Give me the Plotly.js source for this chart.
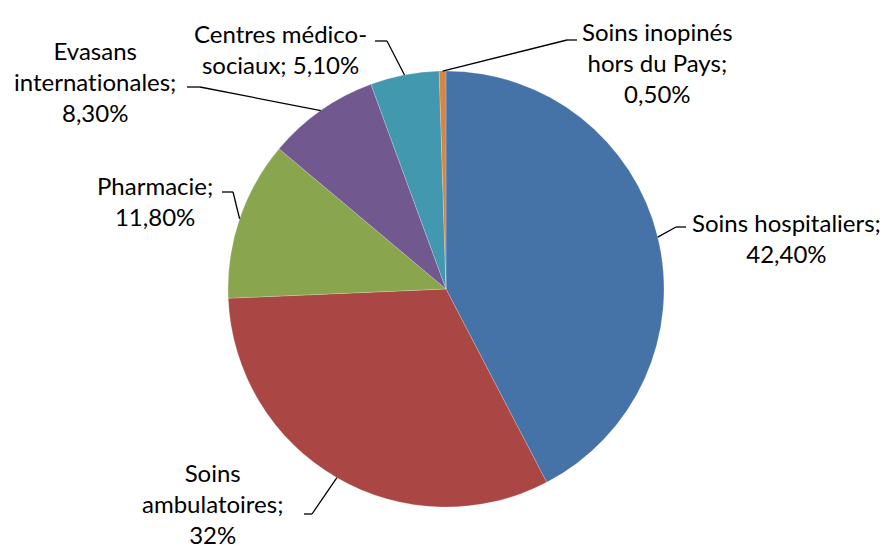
<!DOCTYPE html>
<html>
<head>
<meta charset="utf-8">
<script src="https://cdn.plot.ly/plotly-3.0.1.min.js"></script>
<style>html,body{margin:0;padding:0;background:#fff;}#chart{width:887px;height:548px;}
text{font-variant-ligatures:none;font-feature-settings:"liga" 0;}</style>
</head>
<body>
<div id="chart"></div>
<script>
const categories = ["Soins hospitaliers", "Soins ambulatoires", "Pharmacie", "Evasans internationales", "Centres médico-sociaux", "Soins inopinés hors du Pays"];
const values = [42.4, 32, 11.8, 8.3, 5.1, 0.5];
const valueLabels = ["42,40%", "32%", "11,80%", "8,30%", "5,10%", "0,50%"];
const labelTexts = [
  "Soins hospitaliers;<br>42,40%",
  "Soins<br>ambulatoires;<br>32%",
  "Pharmacie;<br>11,80%",
  "Evasans<br>internationales;<br>8,30%",
  "Centres médico-<br>sociaux; 5,10%",
  "Soins inopinés<br>hors du Pays;<br>0,50%"
];
const colors = ["#4572A7", "#AA4643", "#89A54E", "#71588F", "#4198AF", "#DB843D"];

const W = 887, H = 548;
const dom = {x: [(446 - 218) / W, (446 + 218) / W], y: [1 - (289 + 218) / H, 1 - (289 - 218) / H]};
const cx = (dom.x[0] + dom.x[1]) / 2 * W;
const cy = (1 - (dom.y[0] + dom.y[1]) / 2) * H;
const R = Math.min((dom.x[1] - dom.x[0]) * W, (dom.y[1] - dom.y[0]) * H) / 2;

// label layout: text center, elbow point, line tail end (pixels)
const labelPos = [
  {tx: 786, ty: 238, ex: 676, ey: 227, hx: 686},
  {tx: 212, ty: 503, ex: 312, ey: 514, hx: 304},
  {tx: 155, ty: 201, ex: 233, ey: 192, hx: 222},
  {tx: 95,  ty: 82,  ex: 200, ey: 87,  hx: 187},
  {tx: 280, ty: 49,  ex: 387, ey: 41,  hx: 375},
  {tx: 657, ty: 62,  ex: 567, ey: 40,  hx: 577}
];

const total = values.reduce((a, b) => a + b, 0);
let cum = 0;
const shapes = [], annotations = [];
const px = x => x / W, py = y => 1 - y / H;
values.forEach((v, i) => {
  const mid = (cum + v / 2) / total * 2 * Math.PI;
  cum += v;
  const sx = cx + R * Math.sin(mid), sy = cy - R * Math.cos(mid);
  const p = labelPos[i];
  const lineStyle = {color: "#000", width: 1.3};
  shapes.push({type: "line", xref: "paper", yref: "paper", x0: px(sx), y0: py(sy), x1: px(p.ex), y1: py(p.ey), line: lineStyle});
  shapes.push({type: "line", xref: "paper", yref: "paper", x0: px(p.ex), y0: py(p.ey), x1: px(p.hx), y1: py(p.ey), line: lineStyle});
  annotations.push({xref: "paper", yref: "paper", x: px(p.tx), y: py(p.ty), text: labelTexts[i], showarrow: false,
    xanchor: "center", yanchor: "middle", align: "center", font: {family: "Lato, 'Open Sans', sans-serif", size: 24, color: "#000"}});
});

Plotly.newPlot("chart", [{
  type: "pie",
  labels: categories,
  values: values,
  sort: false,
  direction: "clockwise",
  rotation: 0,
  marker: {colors: colors, line: {color: "rgba(255,255,255,0.4)", width: 0.5}},
  textinfo: "none",
  hoverinfo: "label+percent",
  domain: dom,
  showlegend: false
}], {
  width: W, height: H,
  margin: {l: 0, r: 0, t: 0, b: 0},
  paper_bgcolor: "#fff",
  showlegend: false,
  shapes: shapes,
  annotations: annotations
}, {displayModeBar: false, staticPlot: true});
</script>
</body>
</html>
